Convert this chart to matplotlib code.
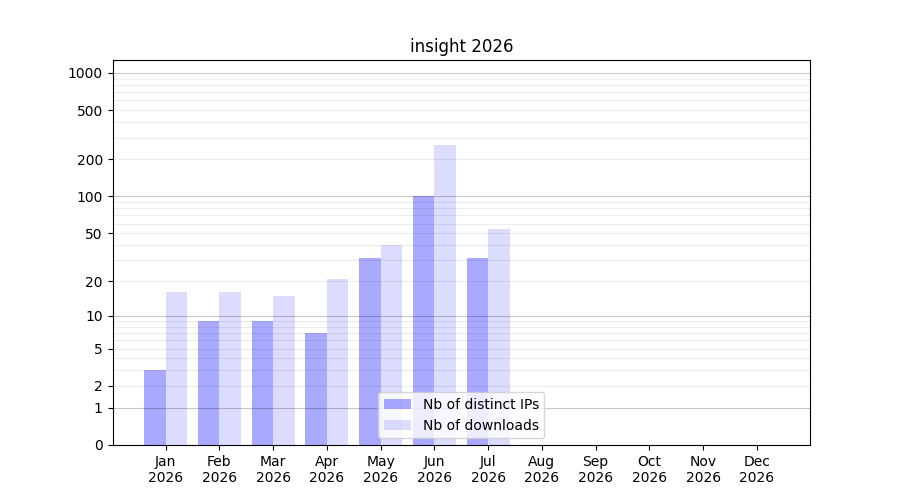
import numpy as np
import matplotlib
matplotlib.use("Agg")
from matplotlib import pyplot as plt
from matplotlib.ticker import NullLocator


months = ["Jan", "Feb", "Mar", "Apr", "May", "Jun",
          "Jul", "Aug", "Sep", "Oct", "Nov", "Dec"]
year = 2026
distinct_ips = [3, 9, 9, 7, 31, 100, 31, 0, 0, 0, 0, 0]
downloads = [16, 16, 15, 21, 40, 262, 54, 0, 0, 0, 0, 0]
ytick_values = [0, 1, 2, 5, 10, 20, 50, 100, 200, 500, 1000]


def forward(y):
    return np.log10(1 + np.maximum(y, 0))


def inverse(y):
    return 10 ** y - 1


fig, ax = plt.subplots(figsize=(9, 5), dpi=100)
x = np.arange(len(months))
ax.bar(x, distinct_ips, width=-0.4, align="edge", color="#5555ff",
       alpha=0.5, label="Nb of distinct IPs")
ax.bar(x, downloads, width=0.4, align="edge", color="#bbbbff",
       alpha=0.5, label="Nb of downloads")

ax.set_yscale("function", functions=(forward, inverse))
ax.set_ylim(0, 1272)

# grid: decades darker, intermediate values lighter (translucent, over bars)
for decade in [1, 10, 100, 1000]:
    ax.axhline(decade, color="black", alpha=0.22, lw=0.8, zorder=3)
    for k in range(2, 10):
        if decade * k < 1272:
            ax.axhline(decade * k, color="black", alpha=0.07, lw=0.8,
                       zorder=3)

ax.set_yticks(ytick_values)
ax.set_yticklabels([str(v) for v in ytick_values])
ax.yaxis.set_minor_locator(NullLocator())
ax.xaxis.set_minor_locator(NullLocator())
ax.tick_params(which="minor", length=0)
ax.set_xticks(x)
ax.set_xticklabels([f"{m}\n{year}" for m in months])
ax.set_title(f"insight {year}")
ax.legend(loc="lower center")

fig.savefig("out.png")
